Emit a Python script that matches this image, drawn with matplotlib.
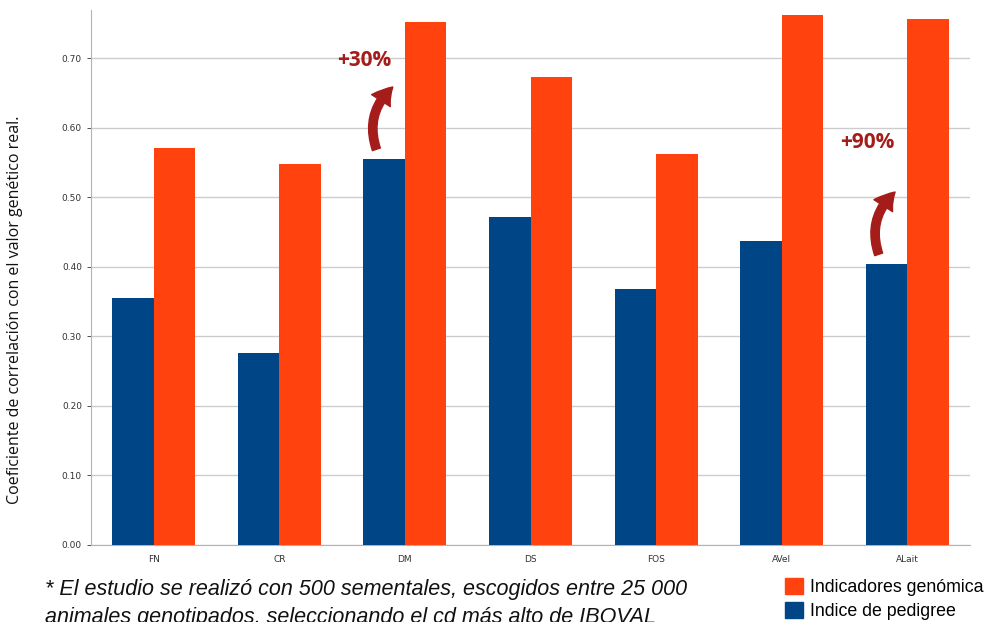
"""Coeficiente de correlación: índice de pedigree vs indicadores genómicos."""

import matplotlib
matplotlib.use("Agg")
import matplotlib.pyplot as plt
from matplotlib.patches import FancyArrowPatch, Patch
import numpy as np

categories = ["FN", "CR", "DM", "DS", "FOS", "AVel", "ALait"]
pedigree = [0.355, 0.276, 0.555, 0.471, 0.368, 0.437, 0.404]
genomica = [0.571, 0.548, 0.752, 0.673, 0.562, 0.762, 0.756]
yticks = [0.0, 0.1, 0.2, 0.3, 0.4, 0.5, 0.6, 0.7]

BLUE = "#004586"
ORANGE = "#ff420e"
RED = "#a51d1a"


def main() -> int:
    fig = plt.figure(figsize=(9.88, 6.22), dpi=100)
    ax = fig.add_axes([91 / 988, 77 / 622, 879 / 988, 535 / 622])

    x = np.arange(len(categories))
    w = 0.33
    ax.bar(x - w / 2, pedigree, w, color=BLUE, zorder=3)
    ax.bar(x + w / 2, genomica, w, color=ORANGE, zorder=3)

    ax.set_xlim(-0.5, len(categories) - 0.5)
    ax.set_ylim(0, 0.769)
    ax.set_yticks(yticks)
    ax.set_yticklabels([f"{v:.2f}" for v in yticks])
    ax.set_xticks(x)
    ax.set_xticklabels(categories)
    ax.tick_params(axis="both", labelsize=6.5, colors="#333333", length=3, width=0.6)
    ax.tick_params(axis="x", length=0, pad=7)
    ax.yaxis.grid(True, color="#cccccc", linewidth=1.0, zorder=0)
    for s in ("top", "right"):
        ax.spines[s].set_visible(False)
    ax.spines["left"].set_color("#b3b3b3")
    ax.spines["bottom"].set_color("#b3b3b3")

    fig.text(15 / 988, 1 - 310 / 622,
             "Coeficiente de correlación con el valor genético real.",
             rotation=90, ha="center", va="center", fontsize=11.5,
             family="Open Sans", color="#111111")

    # gain annotations: +30% on DM, +90% on ALait
    for i, label, ty in ((2, "+30%", 0.697), (6, "+90%", 0.579)):
        base = pedigree[i]
        start = (i - 0.22, base + 0.01)
        end = (i - 0.08, base + 0.106)
        ax.add_patch(FancyArrowPatch(start, end, connectionstyle="arc3,rad=-0.35",
                                     arrowstyle="simple,head_length=13,head_width=16,tail_width=6",
                                     color=RED, zorder=5, mutation_scale=1))
        ax.text(i - 0.32, ty, label, ha="center", va="center",
                fontsize=15, fontweight="bold", color=RED, family="Open Sans", zorder=5)

    note = ["* El estudio se realizó con 500 sementales, escogidos entre 25 000",
            "animales genotipados, seleccionando el cd más alto de IBOVAL"]
    for y, line in zip((590, 618), note):
        fig.text(45 / 988, 1 - y / 622, line, ha="left", va="center", fontsize=15.5,
                 style="italic", family="Liberation Sans", color="#111111")

    handles = [Patch(color=ORANGE), Patch(color=BLUE)]
    fig.legend(handles, ["Indicadores genómica", "Indice de pedigree"],
               loc="center left", bbox_to_anchor=(785 / 988, 1 - 599 / 622),
               borderaxespad=0, borderpad=0,
               frameon=False, handlelength=1.0, handleheight=1.0, handletextpad=0.4,
               labelspacing=0.35, prop={"family": "Liberation Sans", "size": 12.8})

    fig.savefig("out.png", dpi=100)
    return 0


if __name__ == "__main__":
    raise SystemExit(main())
